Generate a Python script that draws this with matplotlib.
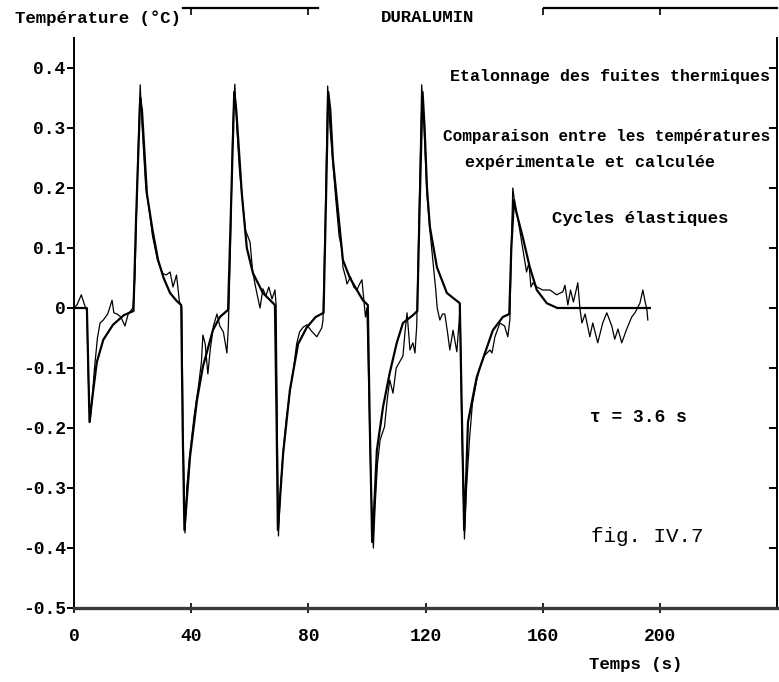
import matplotlib
matplotlib.use("Agg")
import matplotlib.pyplot as plt

# calculated temperature (smooth curve)
t_calc = [0, 4.4, 5.3, 6.5, 7.8, 10, 13.3, 17, 20.3, 21.2, 22.6, 23.2, 24.9, 26.8, 28.7, 30.6, 32.8, 35, 36.6,
          37.1, 37.7, 38.5, 39.6, 42, 44, 47.4, 49.8, 52.6, 53.5, 54.7, 55.4, 57.3, 59, 61.1, 64.5, 68.6,
          69.2, 69.6, 70.3, 71.4, 73.7, 76.5, 79.5, 82.5, 85.2, 85.9, 86.8, 87.5, 88.4, 90.1, 91.8, 94.2, 98.6, 100.3,
          101.0, 101.8, 102.5, 103.4, 105.5, 107.8, 110.2, 112.3, 115.7, 117.2, 117.9, 119.0, 119.7, 120.5, 121.5,
          123.9, 127.3, 131.7, 132.5, 133.2, 133.9, 134.5, 137.5, 140.3, 143, 146.4, 148.6, 149.3, 150.2, 151,
          153.2, 155.6, 158, 161.4, 165, 196.6]
v_calc = [0, 0, -0.19, -0.14, -0.09, -0.053, -0.028, -0.012, -0.005, 0.15, 0.35, 0.33, 0.19, 0.13, 0.08, 0.05, 0.025, 0.012, 0.005,
          -0.2, -0.37, -0.32, -0.248, -0.153, -0.098, -0.037, -0.015, -0.003, 0.15, 0.36, 0.33, 0.19, 0.1, 0.058, 0.025, 0.005,
          -0.2, -0.37, -0.32, -0.242, -0.137, -0.06, -0.032, -0.015, -0.008, 0.15, 0.36, 0.33, 0.247, 0.163, 0.08, 0.05, 0.013, 0.005,
          -0.2, -0.39, -0.33, -0.237, -0.165, -0.108, -0.058, -0.025, -0.012, -0.005, 0.15, 0.36, 0.3, 0.2, 0.135,
          0.068, 0.025, 0.008, -0.2, -0.37, -0.28, -0.19, -0.115, -0.075, -0.037, -0.015, -0.01, 0.1, 0.18, 0.16,
          0.118, 0.068, 0.03, 0.008, 0.0, 0.0]

# experimental temperature (noisy curve)
t_exp = [0, 1.0, 2.5, 3.6, 4.4, 4.9, 5.5, 6.2, 7.0, 8.0, 8.9, 10.0, 11.5, 13.0, 13.6, 14.7, 16, 17.4, 18.5, 20.1,
         20.8, 21.8, 22.6, 23.3, 24.5, 25.5, 26.8, 28.5, 30.2, 31.5, 32.8, 33.8, 35.0, 36.0, 36.8,
         37.2, 37.9, 38.5, 39.4, 41, 42.5, 43.5, 44.0, 44.8, 45.7, 46.5, 47.6, 48.8, 49.8, 51, 52.2, 52.7,
         53.4, 54.2, 54.9, 55.6, 56.5, 57.3, 58.5, 60.1, 61, 62.2, 63.5, 64.5, 65.5, 66.5, 67.6, 68.6, 69.0,
         69.4, 69.8, 70.5, 71.4, 72.6, 73.7, 75.0, 76.0, 77.0, 78.2, 79.5, 81.0, 82.9, 84.6, 85.0,
         85.8, 86.6, 87.4, 88.4, 89.4, 90.5, 91.5, 91.8, 92.8, 93.2, 94.4, 95.5, 96.6, 97.5, 98.3, 99.0, 99.5, 100.0,
         100.5, 101.4, 102.2, 102.8, 103.6, 104.5, 106.0, 107.0, 107.8, 108.9, 110.0, 112.3, 113.0, 113.7, 114.7,
         115.7, 116.4, 117.0, 117.8, 118.7, 119.5, 120.5, 121.5, 122.5, 123.5, 124.0, 124.9, 125.8, 126.6, 127.5,
         128.3, 129.4, 130.7, 131.5, 131.8, 132.4, 133.3, 134.0, 135.0, 136.0, 137.5, 138.5, 140.0, 142.0, 142.7,
         143.7, 145.4, 147.0, 148.1, 148.8, 149.3, 149.8, 150.6, 151.5, 152.5, 153.5, 154.5, 155.3, 156.0, 156.7,
         158.0, 160.0, 162.5, 164.8, 166.0, 166.9, 167.6, 168.6, 169.5, 170.5, 172.0, 172.7, 173.4, 174.5, 176.1,
         177.1, 178.8, 180.5, 181.9, 183.6, 184.6, 185.7, 187.0, 188.7, 190.4, 191.5, 193.2, 194.2, 195.0, 195.6, 195.9]
v_exp = [0.0, 0.005, 0.022, 0.005, -0.005, -0.12, -0.19, -0.15, -0.1, -0.05, -0.025, -0.02, -0.01, 0.013, -0.008, -0.01, -0.015, -0.03, -0.01, 0.0,
         0.05, 0.25, 0.372, 0.3, 0.2, 0.17, 0.12, 0.08, 0.058, 0.055, 0.06, 0.035, 0.055, 0.01, 0.0,
         -0.2, -0.375, -0.3, -0.25, -0.18, -0.13, -0.09, -0.045, -0.06, -0.11, -0.07, -0.03, -0.01, -0.03, -0.04, -0.075, -0.03,
         0.1, 0.3, 0.373, 0.3, 0.23, 0.19, 0.13, 0.11, 0.06, 0.03, 0.0, 0.032, 0.02, 0.035, 0.015, 0.03, 0.005,
         -0.2, -0.38, -0.3, -0.24, -0.18, -0.14, -0.1, -0.06, -0.04, -0.032, -0.028, -0.038, -0.048, -0.033, -0.02,
         0.15, 0.37, 0.3, 0.24, 0.18, 0.12, 0.097, 0.068, 0.05, 0.04, 0.052, 0.035, 0.03, 0.04, 0.047, 0.01, -0.015, 0.0,
         -0.1, -0.3, -0.4, -0.33, -0.26, -0.22, -0.198, -0.15, -0.12, -0.142, -0.1, -0.08, -0.04, -0.008, -0.07,
         -0.058, -0.075, -0.03, 0.15, 0.372, 0.3, 0.19, 0.13, 0.08, 0.03, 0.0, -0.02, -0.01, -0.01, -0.04,
         -0.07, -0.037, -0.073, -0.02, 0.005, -0.2, -0.385, -0.3, -0.22, -0.16, -0.12, -0.1, -0.08, -0.07, -0.075,
         -0.048, -0.025, -0.03, -0.048, -0.02, 0.1, 0.2, 0.17, 0.15, 0.12, 0.09, 0.06, 0.075, 0.035, 0.042,
         0.035, 0.03, 0.03, 0.022, 0.025, 0.027, 0.038, 0.005, 0.03, 0.01, 0.042, 0.0, -0.025, -0.01, -0.048,
         -0.025, -0.058, -0.025, -0.008, -0.03, -0.052, -0.035, -0.058, -0.035, -0.015, -0.008, 0.008, 0.03, 0.01, -0.003, -0.02]

x_ticks = [0, 40, 80, 120, 160, 200]
x_labels = ["0", "40", "80", "120", "160", "200"]
y_ticks = [-0.5, -0.4, -0.3, -0.2, -0.1, 0, 0.1, 0.2, 0.3, 0.4]
y_labels = ["-0.5", "-0.4", "-0.3", "-0.2", "-0.1", "0", "0.1", "0.2", "0.3", "0.4"]

mono = "Liberation Mono"

fig = plt.figure(figsize=(7.79, 6.82), dpi=100)
ax = fig.add_axes([74 / 779, 74 / 682, 703 / 779, 600 / 682])

ax.plot(t_exp, v_exp, color="black", lw=0.9)
ax.plot(t_calc, v_calc, color="black", lw=1.6)

ax.set_xlim(0, 240)
ax.set_ylim(-0.5, 0.5)

# frame, drawn in pieces like the original
ax.spines["left"].set_bounds(-0.5, 0.45)
ax.spines["left"].set_linewidth(1.4)
ax.spines["bottom"].set_linewidth(2.4)
ax.spines["bottom"].set_color("#3a3a3a")
ax.spines["right"].set_bounds(-0.5, 0.45)
ax.spines["right"].set_linewidth(1.4)
ax.spines["top"].set_bounds(160.5, 240)
ax.spines["top"].set_linewidth(1.6)
ax.axhline(0.5, xmin=37.2 / 240, xmax=83.3 / 240, color="black", lw=1.6, clip_on=False)

ax.set_xticks(x_ticks)
ax.set_xticklabels(x_labels, fontfamily=mono, fontweight="bold", fontsize=13)
ax.set_yticks(y_ticks)
ax.set_yticklabels(y_labels, fontfamily=mono, fontweight="bold", fontsize=13)
ax.tick_params(axis="x", direction="inout", length=7, width=1.2, pad=11)
ax.tick_params(axis="y", direction="out", length=5, width=1.4, pad=1)

sec_top = ax.secondary_xaxis("top")
sec_top.set_xticks([40, 80, 160, 200])
sec_top.set_xticklabels([])
sec_top.tick_params(direction="in", length=5, width=1.2)
sec_top.spines["top"].set_visible(False)

sec_right = ax.secondary_yaxis("right")
sec_right.set_yticks([-0.4, -0.3, -0.2, -0.1, 0, 0.1, 0.2, 0.3, 0.4])
sec_right.set_yticklabels([])
sec_right.tick_params(direction="in", length=6, width=1.4)
sec_right.spines["right"].set_visible(False)

fig.text(15 / 779, 1 - 18 / 682, "Température (°C)", family=mono, fontweight="bold",
         fontsize=12.5, va="center", ha="left")
fig.text(428 / 779, 1 - 18 / 682, "DURALUMIN", family=mono, fontweight="bold",
         fontsize=12.5, va="center", ha="center")
fig.text(770 / 779, 1 - 77 / 682, "Etalonnage des fuites thermiques", family=mono,
         fontweight="bold", fontsize=12, va="center", ha="right")
fig.text(770 / 779, 1 - 137 / 682, "Comparaison entre les températures", family=mono,
         fontweight="bold", fontsize=11.5, va="center", ha="right")
fig.text(590 / 779, 1 - 163 / 682, "expérimentale et calculée", family=mono,
         fontweight="bold", fontsize=12, va="center", ha="center")
fig.text(640 / 779, 1 - 219 / 682, "Cycles élastiques", family=mono,
         fontweight="bold", fontsize=12.5, va="center", ha="center")
fig.text(638 / 779, 1 - 417 / 682, "τ = 3.6 s", family=mono, fontweight="bold",
         fontsize=13, va="center", ha="center")
fig.text(647 / 779, 1 - 537 / 682, "fig. IV.7", family=mono,
         fontsize=15, va="center", ha="center")
fig.text(636 / 779, 1 - 665 / 682, "Temps (s)", family=mono, fontweight="bold",
         fontsize=12.5, va="center", ha="center")

fig.savefig("out.png", dpi=100)
